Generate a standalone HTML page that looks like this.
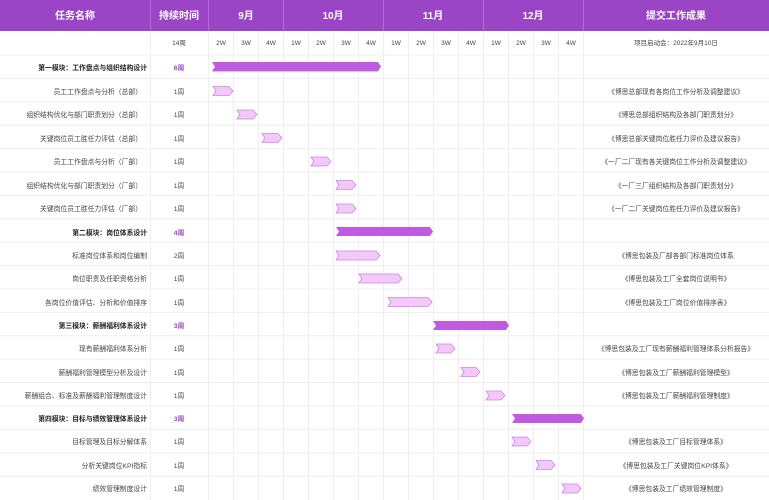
<!DOCTYPE html>
<html><head><meta charset="utf-8"><style>
html,body{margin:0;padding:0;background:#fff;}
svg{display:block;font-family:"Liberation Sans","Noto Sans CJK SC",sans-serif;}
</style></head><body>
<svg width="769" height="500" viewBox="0 0 769 500" xmlns="http://www.w3.org/2000/svg">
<rect x="0" y="0" width="769" height="31" fill="#9a44c6"/>
<g stroke="#b36ad6" stroke-width="1">
<line x1="150.5" y1="0" x2="150.5" y2="31"/><line x1="208.5" y1="0" x2="208.5" y2="31"/>
<line x1="283.5" y1="0" x2="283.5" y2="31"/><line x1="383.5" y1="0" x2="383.5" y2="31"/>
<line x1="483.5" y1="0" x2="483.5" y2="31"/><line x1="583.5" y1="0" x2="583.5" y2="31"/>
</g>
<g fill="#fff" font-size="10" font-weight="bold" text-anchor="middle">
<text x="75" y="19">任务名称</text><text x="179" y="19">持续时间</text>
<text x="246" y="19">9月</text><text x="333" y="19">10月</text>
<text x="433" y="19">11月</text><text x="533" y="19">12月</text>
<text x="676" y="19">提交工作成果</text>
</g>
<g id="grid" stroke="#efefef" stroke-width="1">
<line x1="150.5" y1="31" x2="150.5" y2="500"/><line x1="208.5" y1="31" x2="208.5" y2="500"/>
<line x1="233.5" y1="31" x2="233.5" y2="500"/><line x1="258.5" y1="31" x2="258.5" y2="500"/>
<line x1="283.5" y1="31" x2="283.5" y2="500"/><line x1="308.5" y1="31" x2="308.5" y2="500"/>
<line x1="333.5" y1="31" x2="333.5" y2="500"/><line x1="358.5" y1="31" x2="358.5" y2="500"/>
<line x1="383.5" y1="31" x2="383.5" y2="500"/><line x1="408.5" y1="31" x2="408.5" y2="500"/>
<line x1="433.5" y1="31" x2="433.5" y2="500"/><line x1="458.5" y1="31" x2="458.5" y2="500"/>
<line x1="483.5" y1="31" x2="483.5" y2="500"/><line x1="508.5" y1="31" x2="508.5" y2="500"/>
<line x1="533.5" y1="31" x2="533.5" y2="500"/><line x1="558.5" y1="31" x2="558.5" y2="500"/>
<line x1="583.5" y1="31" x2="583.5" y2="500"/>
</g>
<g stroke="#eeeeee" stroke-width="1">
<line x1="0" y1="55" x2="769" y2="55"/><line x1="0" y1="78.4" x2="769" y2="78.4"/><line x1="0" y1="101.8" x2="769" y2="101.8"/><line x1="0" y1="125.2" x2="769" y2="125.2"/><line x1="0" y1="148.6" x2="769" y2="148.6"/><line x1="0" y1="172" x2="769" y2="172"/><line x1="0" y1="195.4" x2="769" y2="195.4"/><line x1="0" y1="218.8" x2="769" y2="218.8"/><line x1="0" y1="242.2" x2="769" y2="242.2"/><line x1="0" y1="265.6" x2="769" y2="265.6"/><line x1="0" y1="289" x2="769" y2="289"/><line x1="0" y1="312.4" x2="769" y2="312.4"/><line x1="0" y1="335.8" x2="769" y2="335.8"/><line x1="0" y1="359.2" x2="769" y2="359.2"/><line x1="0" y1="382.6" x2="769" y2="382.6"/><line x1="0" y1="406" x2="769" y2="406"/><line x1="0" y1="429.4" x2="769" y2="429.4"/><line x1="0" y1="452.8" x2="769" y2="452.8"/><line x1="0" y1="476.2" x2="769" y2="476.2"/>
</g>
<g font-size="6.5" fill="#444" text-anchor="middle">
<text x="179" y="45">14周</text>
<text x="221" y="45">2W</text><text x="246" y="45">3W</text><text x="271" y="45">4W</text>
<text x="296" y="45">1W</text><text x="321" y="45">2W</text><text x="346" y="45">3W</text><text x="371" y="45">4W</text>
<text x="396" y="45">1W</text><text x="421" y="45">2W</text><text x="446" y="45">3W</text><text x="471" y="45">4W</text>
<text x="496" y="45">1W</text><text x="521" y="45">2W</text><text x="546" y="45">3W</text><text x="571" y="45">4W</text>
<text x="676" y="45">项目启动会：2022年9月10日</text>
</g>
<g font-size="6.8" fill="#444">
<g text-anchor="end">
<text x="147" y="70" font-weight="bold" fill="#222">第一模块：工作盘点与组织结构设计</text>
<text x="142" y="94">员工工作盘点与分析（总部）</text>
<text x="142" y="117">组织结构优化与部门职责划分（总部）</text>
<text x="142" y="141">关键岗位员工胜任力评估（总部）</text>
<text x="142" y="164">员工工作盘点与分析（厂部）</text>
<text x="142" y="188">组织结构优化与部门职责划分（厂部）</text>
<text x="142" y="211">关键岗位员工胜任力评估（厂部）</text>
<text x="147" y="235" font-weight="bold" fill="#222">第二模块：岗位体系设计</text>
<text x="147" y="258">标准岗位体系和岗位编制</text>
<text x="147" y="281">岗位职责及任职资格分析</text>
<text x="147" y="305">各岗位价值评估、分析和价值排序</text>
<text x="147" y="328" font-weight="bold" fill="#222">第三模块：薪酬福利体系设计</text>
<text x="147" y="351">现有薪酬福利体系分析</text>
<text x="147" y="375">薪酬福利管理模型分析及设计</text>
<text x="147" y="398">薪酬组合、标准及薪酬福利管理制度设计</text>
<text x="147" y="421" font-weight="bold" fill="#222">第四模块：目标与绩效管理体系设计</text>
<text x="147" y="444">目标管理及目标分解体系</text>
<text x="147" y="468">分析关键岗位KPI指标</text>
<text x="147" y="491">绩效管理制度设计</text>
</g>
<g text-anchor="middle">
<text x="179" y="70" fill="#9a44c6" font-weight="bold">6周</text>
<text x="179" y="94">1周</text><text x="179" y="117">1周</text><text x="179" y="141">1周</text>
<text x="179" y="164">1周</text><text x="179" y="188">1周</text><text x="179" y="211">1周</text>
<text x="179" y="235" fill="#9a44c6" font-weight="bold">4周</text>
<text x="179" y="258">2周</text><text x="179" y="281">1周</text><text x="179" y="305">1周</text>
<text x="179" y="328" fill="#9a44c6" font-weight="bold">3周</text>
<text x="179" y="351">1周</text><text x="179" y="375">1周</text><text x="179" y="398">1周</text>
<text x="179" y="421" fill="#9a44c6" font-weight="bold">3周</text>
<text x="179" y="444">1周</text><text x="179" y="468">1周</text><text x="179" y="491">1周</text>
<text x="676" y="94">《博思总部现有各岗位工作分析及调整建议》</text>
<text x="676" y="117">《博思总部组织结构及各部门职责划分》</text>
<text x="676" y="141">《博思总部关键岗位胜任力评价及建议报告》</text>
<text x="676" y="164">《一厂二厂现有各关键岗位工作分析及调整建议》</text>
<text x="676" y="188">《一厂三厂组织结构及各部门职责划分》</text>
<text x="676" y="211">《一厂二厂关键岗位胜任力评价及建议报告》</text>
<text x="676" y="258">《博思包装及厂部各部门标准岗位体系</text>
<text x="676" y="281">《博思包装及工厂全套岗位说明书》</text>
<text x="676" y="305">《博思包装及工厂岗位价值排序表》</text>
<text x="676" y="351">《博思包装及工厂现有薪酬福利管理体系分析报告》</text>
<text x="676" y="375">《博思包装及工厂薪酬福利管理模型》</text>
<text x="676" y="398">《博思包装及工厂薪酬福利管理制度》</text>
<text x="676" y="444">《博思包装及工厂目标管理体系》</text>
<text x="676" y="468">《博思包装及工厂关键岗位KPI体系》</text>
<text x="676" y="491">《博思包装及工厂绩效管理制度》</text>
</g>
</g>
<g fill="#c05ae0">
<polygon points="212,62 378,62 381,66.7 378,71.4 212,71.4 215,66.7"/>
<polygon points="336,227 430,227 433,231.5 430,236 336,236 339,231.5"/>
<polygon points="433,321 506,321 509,325.5 506,330 433,330 436,325.5"/>
<polygon points="512,414 581,414 584,418.5 581,423 512,423 515,418.5"/>
</g>
<g fill="#f5c8fb" stroke="#c987de" stroke-width="0.8">
<polygon points="213,86.5 229,86.5 233,91 229,95.5 213,95.5 216,91"/>
<polygon points="237,110 253,110 257,114.5 253,119 237,119 240,114.5"/>
<polygon points="262,133.5 278,133.5 282,138 278,142.5 262,142.5 265,138"/>
<polygon points="311,157 327,157 331,161.5 327,166 311,166 314,161.5"/>
<polygon points="336,180.5 352,180.5 356,185 352,189.5 336,189.5 339,185"/>
<polygon points="336,204 352,204 356,208.5 352,213 336,213 339,208.5"/>
<polygon points="336,251 376,251 380,255.5 376,260 336,260 339,255.5"/>
<polygon points="359,274 398,274 402,278.5 398,283 359,283 362,278.5"/>
<polygon points="388,297.5 428,297.5 432,302 428,306.5 388,306.5 391,302"/>
<polygon points="436,344 451,344 455,348.5 451,353 436,353 439,348.5"/>
<polygon points="461,367.5 476,367.5 480,372 476,376.5 461,376.5 464,372"/>
<polygon points="486,391 501,391 505,395.5 501,400 486,400 489,395.5"/>
<polygon points="512,437 527,437 531,441.5 527,446 512,446 515,441.5"/>
<polygon points="536,460.5 551,460.5 555,465 551,469.5 536,469.5 539,465"/>
<polygon points="562,484 577,484 581,488.5 577,493 562,493 565,488.5"/>
</g>
</svg>
</body></html>
